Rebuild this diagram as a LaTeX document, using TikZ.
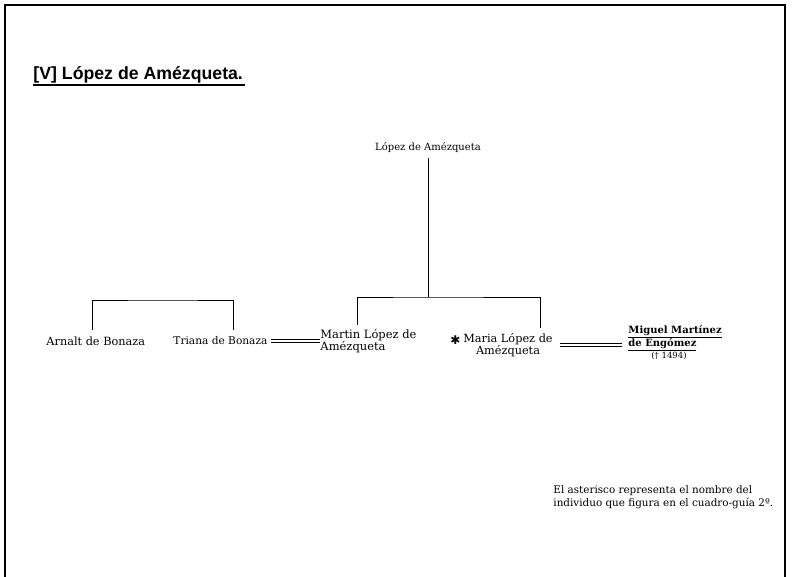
\documentclass[tikz,border=0pt]{standalone}
\usepackage{fontspec}
\setmainfont{DejaVu Serif}
\newfontfamily\titlefont{Liberation Sans}
\newfontfamily\symfont{DejaVu Sans}
\begin{document}
\begin{tikzpicture}[x=1pt,y=-1pt,
  line width=0.9pt,
  person/.style={inner sep=0pt, font=\fontsize{11.3}{12.5}\selectfont},
  spouse/.style={double, double distance=2.4pt, line width=0.6pt},
  link/.style={line width=0.9pt}]
\useasboundingbox (0,0) rectangle (792,577);
% page frame, open at the bottom
\draw[line width=1.1pt] (5,577) -- (5,5) -- (785,5) -- (785,577);

% heading
\node[anchor=base west, inner sep=0pt, font=\titlefont\fontsize{17.7}{19}\selectfont] (title) at (33,80)
  {\textbf{[V] López de Amézqueta.}};
\draw[line width=1.2pt] ([yshift=-5pt]title.base west) -- ([yshift=-5pt,xshift=2pt]title.base east);

% people
\node[person, font=\fontsize{10}{12}\selectfont] (root) at (428,148) {López de Amézqueta};
\node[person, anchor=west] (arnalt) at (46,341) {Arnalt de Bonaza};
\node[person, anchor=west, font=\fontsize{10.6}{12}\selectfont] (triana) at (173,341) {Triana de Bonaza};
\node[person, anchor=west, align=left, font=\fontsize{11.5}{12.5}\selectfont] (martin) at (320,341) {Martin López de\\Amézqueta};
\node[person, align=center] (maria) at (508,345) {Maria López de\\Amézqueta};
\node[inner sep=0pt, font=\symfont\fontsize{12}{12}\selectfont, anchor=east] (star) at ([xshift=-2pt]maria.north west |- 0,340) {✱};
\node[person, anchor=north west, align=left, font=\bfseries\fontsize{10}{12}\selectfont] (miguel) at (628,325)
  {\underline{Miguel Martínez}\\\underline{de Engómez}};
\node[person, font=\fontsize{8.5}{10}\selectfont] (death) at (669,356) {(† 1494)};

% descent from the head of the line
\coordinate (fork) at (428,297);
\coordinate (mtop) at (357,325);
\coordinate (atop) at (540,328);
\draw[link] (root.south) ++(0,5) -- (fork);
\draw[link] (mtop) |- (fork) -| (atop);

% Bonaza siblings
\coordinate (btop) at (163,300);
\coordinate (aend) at (92,330);
\coordinate (tend) at (233,330);
\draw[link] (aend) |- (btop) -| (tend);

% marriages
\draw[spouse] ([xshift=3pt]triana.east) -- (triana.east -| martin.west);
\coordinate (w1) at (560,345);
\coordinate (w2) at (622,345);
\draw[spouse] (w1) -- (w2);

% note
\node[anchor=north west, align=left, inner sep=0pt, font=\fontsize{10.4}{13}\selectfont] (note) at (553,485)
  {El asterisco representa el nombre del\\individuo que figura en el cuadro-guía 2º.};
\end{tikzpicture}
\end{document}
